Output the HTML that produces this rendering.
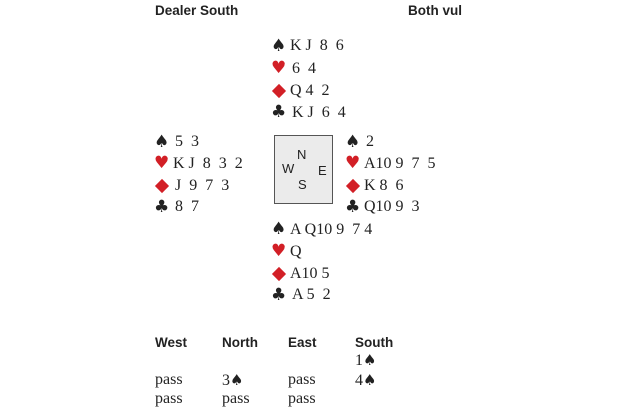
<!DOCTYPE html>
<html><head><style>
body{margin:0;width:620px;height:413px;background:#fff;position:relative;overflow:hidden;font-family:"Liberation Serif",serif;color:#222}
.t{position:absolute;font-size:16px;white-space:pre;line-height:16px}
.h{position:absolute;font-family:"Liberation Sans",sans-serif;font-weight:bold;font-size:13.5px;line-height:16px}
.s{position:absolute;font-family:"DejaVu Sans",sans-serif;font-size:17px;line-height:16px}
.r{color:#d21f26}
.d{position:absolute;width:10px;height:10px;background:#d21f26;transform:rotate(45deg)}
.box{position:absolute;left:274px;top:135px;width:57px;height:67px;border:1.5px solid #555;background:#ebebeb}
.c{position:absolute;font-family:"Liberation Sans",sans-serif;font-size:13px;color:#222}
</style></head><body>
<div class="h" style="left:155px;top:3px">Dealer South</div>
<div class="h" style="left:408px;top:3px">Both vul</div>

<div class="s" style="left:271px;top:38px">♠</div><div class="t" style="left:290px;top:38px">K J  8  6</div>
<div class="s r" style="left:271px;top:60px">♥</div><div class="t" style="left:292px;top:61px">6  4</div>
<div class="d" style="left:274px;top:86px"></div><div class="t" style="left:290px;top:83px">Q 4  2</div>
<div class="s" style="left:271px;top:104px">♣</div><div class="t" style="left:292px;top:105px">K J  6  4</div>

<div class="s" style="left:154px;top:134px">♠</div><div class="t" style="left:175px;top:134px">5  3</div>
<div class="s r" style="left:154px;top:155px">♥</div><div class="t" style="left:173px;top:156px">K J  8  3  2</div>
<div class="d" style="left:157px;top:181px"></div><div class="t" style="left:175px;top:178px">J  9  7  3</div>
<div class="s" style="left:154px;top:199px">♣</div><div class="t" style="left:175px;top:199px">8  7</div>

<div class="box"></div>
<div class="c" style="left:297px;top:147px">N</div>
<div class="c" style="left:282px;top:161px">W</div>
<div class="c" style="left:318px;top:163px">E</div>
<div class="c" style="left:298px;top:177px">S</div>

<div class="s" style="left:345px;top:134px">♠</div><div class="t" style="left:366px;top:134px">2</div>
<div class="s r" style="left:345px;top:155px">♥</div><div class="t" style="left:364px;top:156px">A10 9  7  5</div>
<div class="d" style="left:348px;top:181px"></div><div class="t" style="left:364px;top:178px">K 8  6</div>
<div class="s" style="left:345px;top:199px">♣</div><div class="t" style="left:364px;top:199px">Q10 9  3</div>

<div class="s" style="left:271px;top:221px">♠</div><div class="t" style="left:290px;top:222px">A Q10 9  7 4</div>
<div class="s r" style="left:271px;top:243px">♥</div><div class="t" style="left:290px;top:244px">Q</div>
<div class="d" style="left:274px;top:269px"></div><div class="t" style="left:290px;top:266px">A10 5</div>
<div class="s" style="left:271px;top:287px">♣</div><div class="t" style="left:292px;top:287px">A 5  2</div>

<div class="h" style="left:155px;top:335px">West</div>
<div class="h" style="left:222px;top:335px">North</div>
<div class="h" style="left:288px;top:335px">East</div>
<div class="h" style="left:355px;top:335px">South</div>
<div class="t" style="left:355px;top:352px">1<span style="font-family:'DejaVu Sans';font-size:15px">♠</span></div>
<div class="t" style="left:155px;top:372px">pass</div><div class="t" style="left:222px;top:372px">3<span style="font-family:'DejaVu Sans';font-size:15px">♠</span></div><div class="t" style="left:288px;top:372px">pass</div><div class="t" style="left:355px;top:372px">4<span style="font-family:'DejaVu Sans';font-size:15px">♠</span></div>
<div class="t" style="left:155px;top:391px">pass</div><div class="t" style="left:222px;top:391px">pass</div><div class="t" style="left:288px;top:391px">pass</div>
</body></html>
